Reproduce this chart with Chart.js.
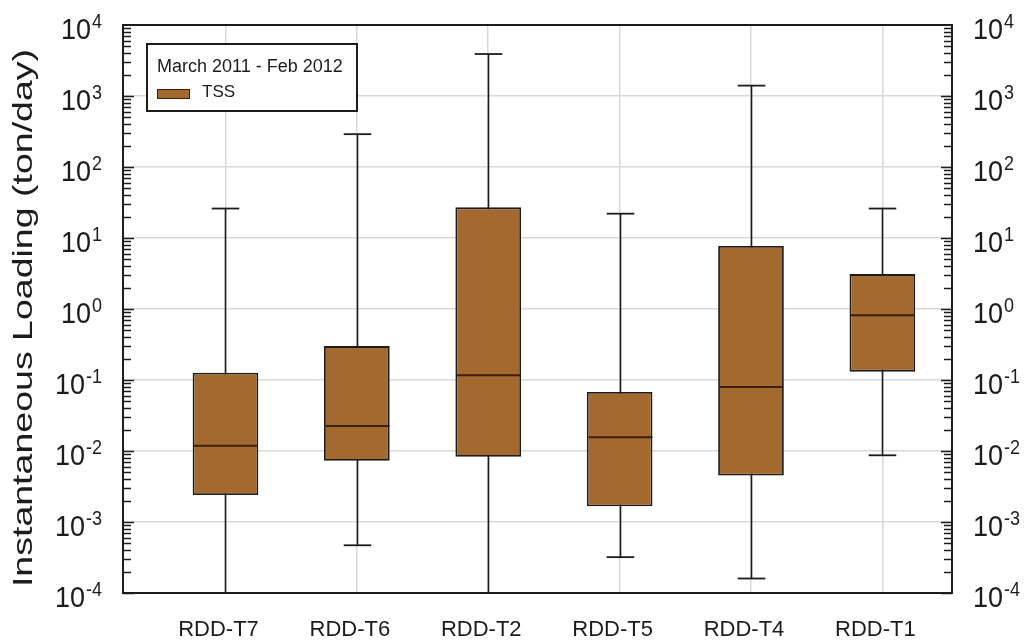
<!DOCTYPE html>
<html>
<head>
<meta charset="utf-8">
<script src="https://cdn.jsdelivr.net/npm/chart.js@4.4.1/dist/chart.umd.min.js"></script>
<style>
  html, body { margin: 0; padding: 0; background: #ffffff; }
  #wrap { width: 1027px; height: 642px; position: relative; }
</style>
</head>
<body>
<div id="wrap"><canvas id="chart"></canvas></div>
<script>
// Instantaneous TSS loading per station, March 2011 - Feb 2012 (ton/day)
const categories = ['RDD-T7', 'RDD-T6', 'RDD-T2', 'RDD-T5', 'RDD-T4', 'RDD-T1'];
const whiskerLow  = [1.0e-4, 4.7e-4, 1.0e-4, 3.2e-4, 1.6e-4, 8.7e-3];
const quartile1   = [2.4e-3, 7.3e-3, 8.3e-3, 1.66e-3, 4.5e-3, 0.131];
const medians     = [0.0119, 0.0225, 0.117, 0.0156, 0.080, 0.815];
const quartile3   = [0.127, 0.30, 27, 0.068, 7.7, 3.1];
const whiskerHigh = [26, 290, 3900, 22, 1400, 26];
const decadeExponents = [-4, -3, -2, -1, 0, 1, 2, 3, 4];
const yAxisTitle = 'Instantaneous Loading (ton/day)';
const legendTitle = 'March 2011 - Feb 2012';
const seriesName = 'TSS';

const FONT = "'Liberation Sans', Arial, Helvetica, sans-serif";
const INK = '#1c1c1c';
const BOX_FILL = '#a4692f';
const GRID = '#d9d9d9';

const decadeValue = e => Number('1e' + e);

// whiskers behind the boxes, medians and caps on top
const boxPlotParts = {
  id: 'boxPlotParts',
  beforeDatasetsDraw(chart) {
    const { ctx, scales: { x, y } } = chart;
    ctx.save();
    ctx.strokeStyle = INK;
    ctx.lineWidth = 1.6;
    categories.forEach((c, i) => {
      const px = Math.round(x.getPixelForValue(i + 1)) + 0.5;
      ctx.beginPath();
      ctx.moveTo(px, y.getPixelForValue(whiskerLow[i]));
      ctx.lineTo(px, y.getPixelForValue(whiskerHigh[i]));
      ctx.stroke();
    });
    ctx.restore();
  },
  afterDatasetsDraw(chart) {
    const { ctx, scales: { x, y } } = chart;
    const meta = chart.getDatasetMeta(0);
    ctx.save();
    categories.forEach((c, i) => {
      const px = Math.round(x.getPixelForValue(i + 1)) + 0.5;
      const half = meta.data[i].width / 2;
      const capHalf = half * 0.42;
      ctx.strokeStyle = INK;
      ctx.lineWidth = 1.8;
      [whiskerLow[i], whiskerHigh[i]].forEach(v => {
        const py = y.getPixelForValue(v);
        ctx.beginPath();
        ctx.moveTo(px - capHalf, py);
        ctx.lineTo(px + capHalf, py);
        ctx.stroke();
      });
      ctx.strokeStyle = '#3b1e0b';
      ctx.lineWidth = 2;
      const pm = y.getPixelForValue(medians[i]);
      ctx.beginPath();
      ctx.moveTo(px - half + 1, pm);
      ctx.lineTo(px + half - 1, pm);
      ctx.stroke();
    });
    ctx.restore();
  }
};

// frame, inward log ticks on both sides, 10^n labels, rotated axis title
const logFrame = {
  id: 'logFrame',
  afterDraw(chart) {
    const { ctx, chartArea: a, scales: { y } } = chart;
    ctx.save();
    ctx.strokeStyle = INK;
    ctx.lineWidth = 1.6;
    for (let e = -4; e < 4; e++) {
      for (let k = 1; k <= 9; k++) {
        const py = Math.round(y.getPixelForValue(k * decadeValue(e))) + 0.5;
        const len = k === 1 ? 11 : 8;
        ctx.beginPath();
        ctx.moveTo(a.left, py); ctx.lineTo(a.left + len, py);
        ctx.moveTo(a.right, py); ctx.lineTo(a.right - len, py);
        ctx.stroke();
      }
    }
    ctx.lineWidth = 2;
    ctx.strokeRect(a.left, a.top, a.right - a.left, a.bottom - a.top);

    ctx.fillStyle = INK;
    ctx.textBaseline = 'alphabetic';
    ctx.textAlign = 'left';
    const put = (text, px, py, size) => {
      ctx.save();
      ctx.translate(px, py);
      ctx.scale(1, 1.12);
      ctx.font = size + 'px ' + FONT;
      ctx.fillText(text, 0, 0);
      ctx.restore();
    };
    decadeExponents.forEach(e => {
      const py = y.getPixelForValue(decadeValue(e));
      const base = '10', exp = String(e);
      ctx.font = '27px ' + FONT;
      const wBase = ctx.measureText(base).width;
      ctx.font = '18px ' + FONT;
      const wExp = ctx.measureText(exp).width;
      const rightEdge = a.left - 21;
      put(exp, rightEdge - wExp, py + 3, 18);
      put(base, rightEdge - wExp - 1 - wBase, py + 14, 27);
      const leftEdge = a.right + 21;
      put(base, leftEdge, py + 14, 27);
      put(exp, leftEdge + wBase + 1, py + 3, 18);
    });

    ctx.save();
    ctx.translate(24, 318);
    ctx.rotate(-Math.PI / 2);
    ctx.scale(1.34, 1);
    ctx.textAlign = 'center';
    ctx.textBaseline = 'middle';
    ctx.font = '28px ' + FONT;
    ctx.fillText(yAxisTitle, 0, 0);
    ctx.restore();
    ctx.restore();
  }
};

// legend box in the upper left corner of the plot
const legendBox = {
  id: 'legendBox',
  afterDraw(chart) {
    const { ctx } = chart;
    ctx.save();
    ctx.fillStyle = '#ffffff';
    ctx.fillRect(147, 44, 210, 67);
    ctx.strokeStyle = INK;
    ctx.lineWidth = 2;
    ctx.strokeRect(147, 44, 210, 67);
    ctx.fillStyle = INK;
    ctx.textAlign = 'left';
    ctx.textBaseline = 'alphabetic';
    ctx.font = '18px ' + FONT;
    ctx.fillText(legendTitle, 157, 72);
    ctx.fillStyle = BOX_FILL;
    ctx.fillRect(157, 89, 33, 10);
    ctx.strokeStyle = '#3b1e0b';
    ctx.lineWidth = 1;
    ctx.strokeRect(157.5, 89.5, 32, 9);
    ctx.fillStyle = INK;
    ctx.font = '17px ' + FONT;
    ctx.fillText(seriesName, 202, 97);
    ctx.restore();
  }
};

new Chart(document.getElementById('chart'), {
  type: 'bar',
  data: {
    datasets: [{
      label: seriesName,
      data: categories.map((c, i) => ({ x: i + 1, y: [quartile1[i], quartile3[i]] })),
      backgroundColor: BOX_FILL,
      borderColor: INK,
      borderWidth: 1.8,
      borderSkipped: false,
      barPercentage: 0.5,
      categoryPercentage: 1.0
    }]
  },
  options: {
    responsive: true,
    maintainAspectRatio: false,
    animation: false,
    layout: { padding: { top: 25, left: 0, right: 0, bottom: 0 } },
    plugins: { legend: { display: false }, tooltip: { enabled: false } },
    scales: {
      x: {
        type: 'linear',
        position: 'bottom',
        offset: false,
        min: 0.22,
        max: 6.53,
        afterBuildTicks: s => { s.ticks = categories.map((c, i) => ({ value: i + 1 })); },
        afterFit: s => { s.height = 49; },
        grid: { color: GRID, lineWidth: 1.5, drawTicks: false, offset: false },
        border: { display: false },
        ticks: {
          autoSkip: false,
          maxRotation: 0,
          padding: 24,
          labelOffset: -7,
          color: INK,
          font: { family: FONT, size: 22 },
          callback: v => categories[Math.round(v) - 1]
        }
      },
      y: {
        type: 'logarithmic',
        position: 'left',
        min: 1e-4,
        max: 1e4,
        afterBuildTicks: s => { s.ticks = decadeExponents.map(e => ({ value: decadeValue(e) })); },
        afterFit: s => { s.width = 123; },
        grid: { color: GRID, lineWidth: 1.5, drawTicks: false },
        border: { display: false },
        ticks: { display: false }
      },
      y2: {
        type: 'logarithmic',
        position: 'right',
        min: 1e-4,
        max: 1e4,
        afterFit: s => { s.width = 75; },
        grid: { display: false },
        border: { display: false },
        ticks: { display: false }
      }
    }
  },
  plugins: [boxPlotParts, logFrame, legendBox]
});
</script>
</body>
</html>
